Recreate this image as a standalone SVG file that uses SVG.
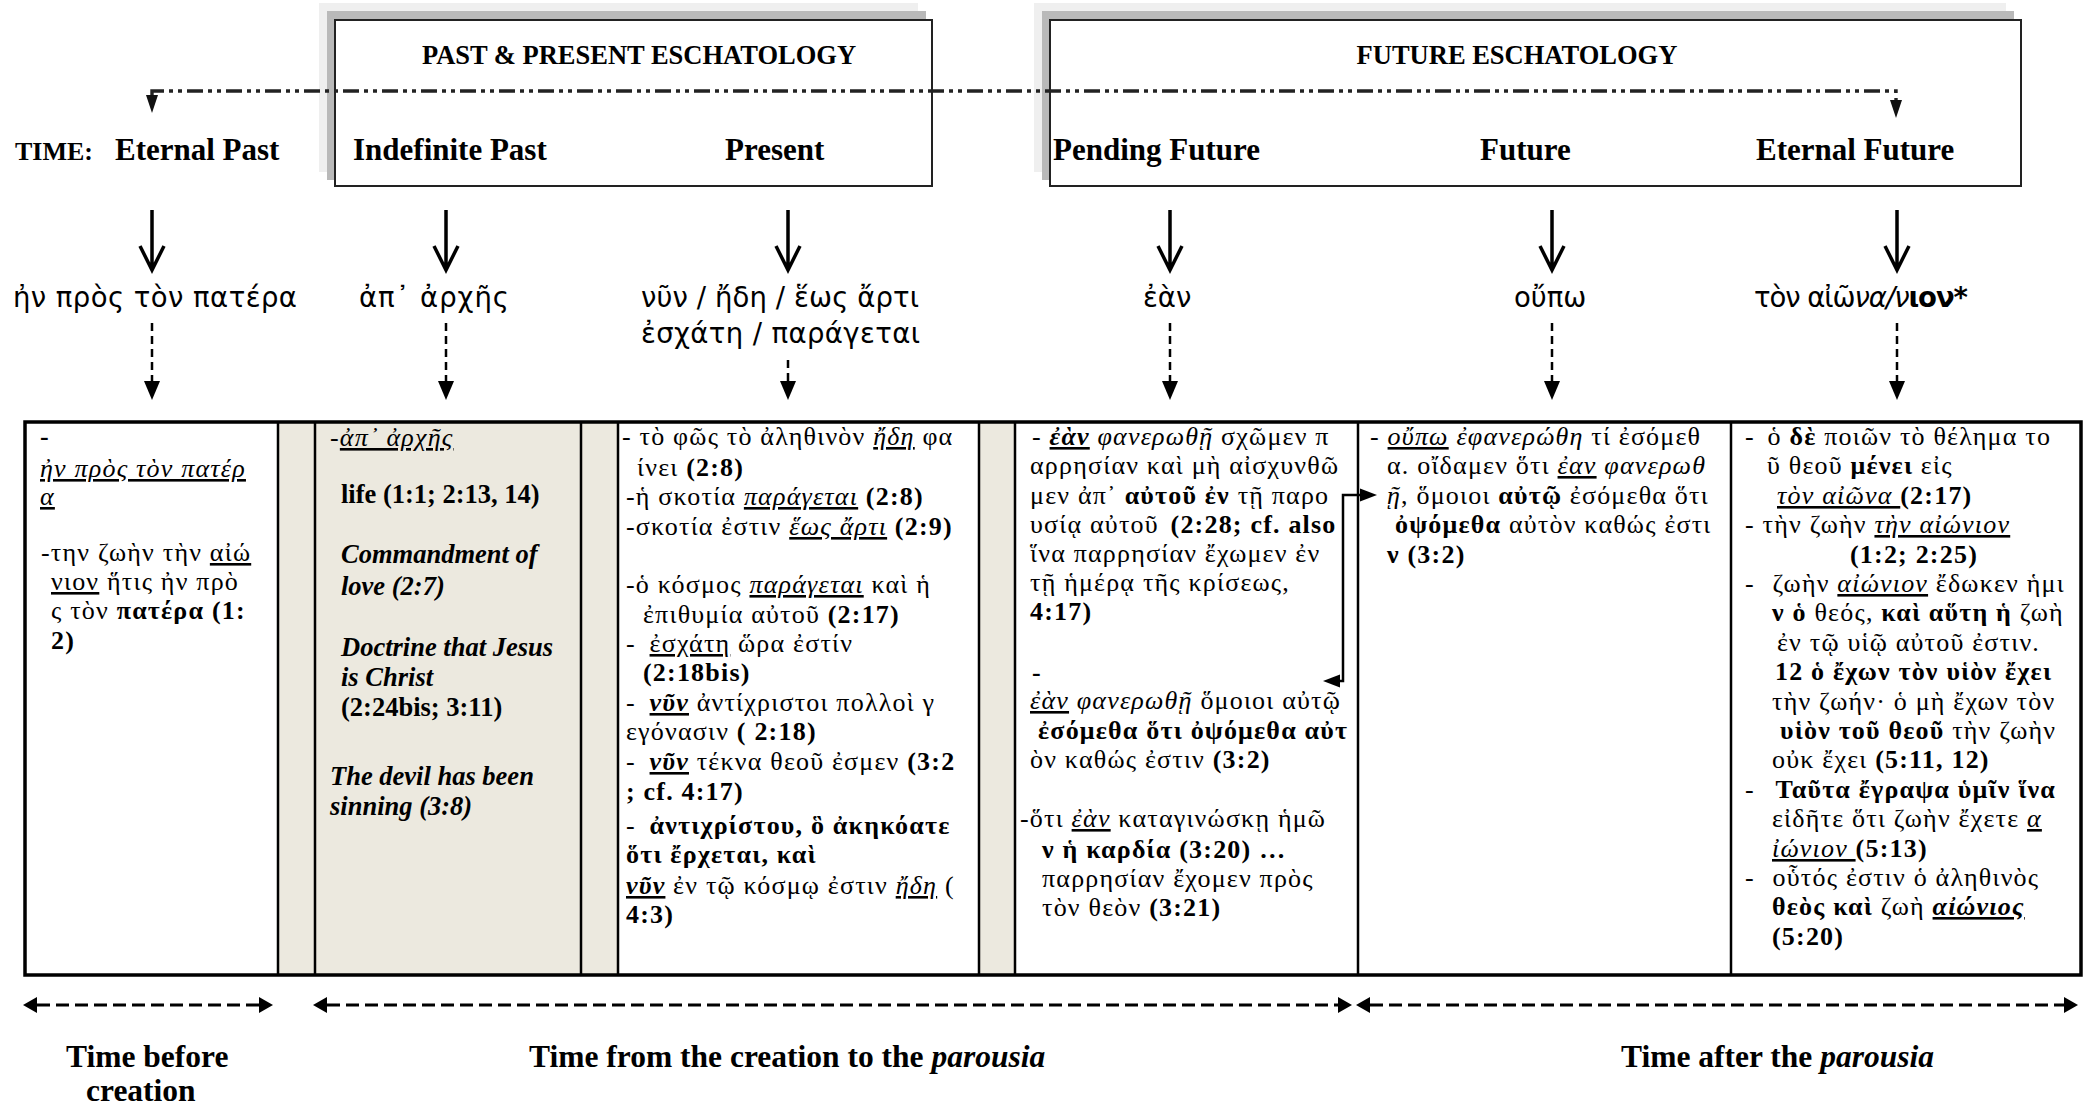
<svg xmlns="http://www.w3.org/2000/svg" width="2094" height="1106" viewBox="0 0 2094 1106">
<style>
.t{font-family:"Liberation Serif","DejaVu Serif",serif;fill:#000}
.title{font-size:26.5px;font-weight:bold}
.hd{font-size:31px;font-weight:bold}
.ft{font-size:31.5px;font-weight:bold}
.lab{font-family:"DejaVu Sans","Noto Sans",sans-serif;font-size:27.5px;fill:#000}
.g{font-family:"Liberation Serif","DejaVu Serif",serif;font-size:26px;letter-spacing:1.2px;fill:#000}
.en{font-family:"Liberation Serif",serif;font-size:26.5px;font-weight:bold;fill:#000}
.b{font-weight:bold}
.i{font-style:italic}
.u{text-decoration:underline}
.solid{stroke:#000;stroke-width:3.5;fill:none;stroke-linejoin:miter}
.dash{stroke:#000;stroke-width:2.5;stroke-dasharray:8 5;fill:none}
.dd{stroke:#222;stroke-width:3.4;stroke-dasharray:16 5 4 5 4 5;fill:none}
.dbl{stroke:#000;stroke-width:3;stroke-dasharray:13 6;fill:none}
.cn{stroke:#000;stroke-width:2.5;fill:none}
.cell{fill:#fff}
.beige{fill:#ECE9DF}
.grid{stroke:#000;stroke-width:2.5}
</style>
<defs>
<marker id="mDown" markerUnits="userSpaceOnUse" markerWidth="20" markerHeight="18" refX="0" refY="8" orient="auto" overflow="visible"><path d="M0,0 L19,8 L0,16 z" fill="#000"/></marker>
<marker id="mDD" markerUnits="userSpaceOnUse" markerWidth="19" markerHeight="12" refX="0" refY="6" orient="auto-start-reverse" overflow="visible"><path d="M0,0 L18,6 L0,12 z" fill="#111"/></marker>
<marker id="mDbl" markerUnits="userSpaceOnUse" markerWidth="15" markerHeight="16" refX="0" refY="8" orient="auto-start-reverse" overflow="visible"><path d="M0,0 L14,8 L0,16 z" fill="#000"/></marker>
<marker id="mCn" markerUnits="userSpaceOnUse" markerWidth="18" markerHeight="14" refX="0" refY="6.5" orient="auto-start-reverse" overflow="visible"><path d="M0,0 L17,6.5 L0,13 z" fill="#000"/></marker>
</defs>

<g id="box-past-present">
<rect x="319" y="3" width="599" height="169" fill="#efefef"/>
<rect x="327" y="11" width="599" height="169" fill="#b9b9b9"/>
<rect x="335" y="20" width="597" height="166" fill="#fff" stroke="#222" stroke-width="2"/>
<text class="t title" x="639" y="64" text-anchor="middle">PAST &amp; PRESENT ESCHATOLOGY</text>
</g>
<g id="box-future">
<rect x="1034" y="3" width="972" height="169" fill="#efefef"/>
<rect x="1042" y="11" width="972" height="169" fill="#b9b9b9"/>
<rect x="1050" y="20" width="971" height="166" fill="#fff" stroke="#222" stroke-width="2"/>
<text class="t title" x="1517" y="64" text-anchor="middle">FUTURE ESCHATOLOGY</text>
</g>

<g id="time-labels">
<text class="t b" x="15" y="160" font-size="26">TIME:</text>
<text class="t hd" x="115" y="160">Eternal Past</text>
<text class="t hd" x="353" y="160">Indefinite Past</text>
<text class="t hd" x="725" y="160">Present</text>
<text class="t hd" x="1053" y="160">Pending Future</text>
<text class="t hd" x="1480" y="160">Future</text>
<text class="t hd" x="1756" y="160">Eternal Future</text>
</g>

<g id="greek-labels">
<text class="lab" x="13" y="307" textLength="284" lengthAdjust="spacing">ἠν πρὸς τὸν πατέρα</text>
<text class="lab" x="359" y="307" textLength="150" lengthAdjust="spacing">ἀπ᾽ ἀρχῆς</text>
<text class="lab" x="641" y="307" textLength="278" lengthAdjust="spacing">νῦν / ἤδη / ἕως ἄρτι</text>
<text class="lab" x="641" y="343" textLength="279" lengthAdjust="spacing">ἐσχάτη / παράγεται</text>
<text class="lab" x="1143" y="307">ἐὰν</text>
<text class="lab" x="1514" y="307">οὔπω</text>
<text class="lab" x="1754" y="307" textLength="214" lengthAdjust="spacing">τὸν αἰῶ<tspan font-style="italic">να/ν</tspan><tspan font-weight="bold">ιον*</tspan></text>
</g>

<g id="table-frame">
<rect x="25" y="422" width="2056" height="553" class="cell"/>
<rect x="278" y="422" width="340" height="553" class="beige"/>
<rect x="979" y="422" width="36" height="553" class="beige"/>
<line class="grid" x1="278" y1="422" x2="278" y2="975"/>
<line class="grid" x1="315" y1="422" x2="315" y2="975"/>
<line class="grid" x1="581" y1="422" x2="581" y2="975"/>
<line class="grid" x1="618" y1="422" x2="618" y2="975"/>
<line class="grid" x1="979" y1="422" x2="979" y2="975"/>
<line class="grid" x1="1015" y1="422" x2="1015" y2="975"/>
<line class="grid" x1="1358" y1="422" x2="1358" y2="975"/>
<line class="grid" x1="1731" y1="422" x2="1731" y2="975"/>
<rect x="25" y="422" width="2056" height="553" fill="none" stroke="#000" stroke-width="3.5"/>
</g>

<g id="cell-eternal-past">
<text class="g" x="40" y="445"><tspan class="b">-</tspan></text>
<text class="g" x="40" y="477"><tspan class="i u">ἠν πρὸς τὸν πατέρ</tspan></text>
<text class="g" x="40" y="505"><tspan class="i u">α</tspan></text>
<text class="g" x="41" y="561">-την ζωὴν τὴν <tspan class="u">αἰώ</tspan></text>
<text class="g" x="51" y="590"><tspan class="u">νιον</tspan> ἥτις ἠν πρὸ</text>
<text class="g" x="51" y="619">ς τὸν <tspan class="b">πατέρα (1:</tspan></text>
<text class="g" x="51" y="649"><tspan class="b">2)</tspan></text>
</g>

<g id="cell-indefinite-past">
<text class="g" x="330" y="446">-<tspan class="i u">ἀπ᾽ ἀρχῆς</tspan></text>
<text class="en" x="341" y="503">life (1:1; 2:13, 14)</text>
<text class="en i" x="341" y="563">Commandment of</text>
<text class="en i" x="341" y="595">love (2:7)</text>
<text class="en i" x="341" y="656">Doctrine that Jesus</text>
<text class="en i" x="341" y="686">is Christ</text>
<text class="en" x="341" y="716">(2:24bis; 3:11)</text>
<text class="en i" x="330" y="785">The devil has been</text>
<text class="en i" x="330" y="815">sinning (3:8)</text>
</g>

<g id="cell-present">
<text class="g" x="622" y="445">- τὸ φῶς τὸ ἀληθινὸν <tspan class="i u">ἤδη</tspan> φα</text>
<text class="g" x="637" y="476">ίνει <tspan class="b">(2:8)</tspan></text>
<text class="g" x="626" y="505">-ἡ σκοτία <tspan class="i u">παράγεται</tspan> <tspan class="b">(2:8)</tspan></text>
<text class="g" x="626" y="535">-σκοτία ἐστιν <tspan class="i u">ἕως ἄρτι</tspan> <tspan class="b">(2:9)</tspan></text>
<text class="g" x="626" y="593">-ὁ κόσμος <tspan class="i u">παράγεται</tspan> καὶ ἡ</text>
<text class="g" x="643" y="623">ἐπιθυμία αὐτοῦ <tspan class="b">(2:17)</tspan></text>
<text class="g" x="626" y="652">- <tspan dx="6" class="u">ἐσχάτη</tspan> ὥρα ἐστίν</text>
<text class="g b" x="643" y="681">(2:18bis)</text>
<text class="g" x="626" y="711">- <tspan dx="6" class="b i u">νῦν</tspan> ἀντίχριστοι πολλοὶ γ</text>
<text class="g" x="626" y="740">εγόνασιν <tspan class="b">( 2:18)</tspan></text>
<text class="g" x="626" y="770">- <tspan dx="6" class="b i u">νῦν</tspan> τέκνα θεοῦ ἐσμεν <tspan class="b">(3:2</tspan></text>
<text class="g b" x="626" y="800">; cf. 4:17)</text>
<text class="g" x="626" y="834">- <tspan dx="6" class="b">ἀντιχρίστου, ὃ ἀκηκόατε</tspan></text>
<text class="g b" x="626" y="863">ὅτι ἔρχεται, καὶ</text>
<text class="g" x="626" y="894"><tspan class="b i u">νῦν</tspan> ἐν τῷ κόσμῳ ἐστιν <tspan class="i u">ἤδη</tspan> (</text>
<text class="g b" x="626" y="923">4:3)</text>
</g>

<g id="cell-pending-future">
<text class="g" x="1032" y="445">- <tspan class="b i u">ἐὰν</tspan> <tspan class="i">φανερωθῇ</tspan> σχῶμεν π</text>
<text class="g" x="1030" y="474">αρρησίαν καὶ μὴ αἰσχυνθῶ</text>
<text class="g" x="1030" y="504">μεν ἀπ᾽ <tspan class="b">αὐτοῦ ἐν</tspan> τῇ παρο</text>
<text class="g" x="1030" y="533">υσίᾳ αὐτοῦ <tspan dx="4" class="b">(2:28; cf. also</tspan></text>
<text class="g" x="1030" y="562">ἵνα παρρησίαν ἔχωμεν ἐν</text>
<text class="g" x="1030" y="591">τῇ ἡμέρᾳ τῆς κρίσεως,</text>
<text class="g b" x="1030" y="620">4:17)</text>
<text class="g b" x="1032" y="681">-</text>
<text class="g" x="1030" y="709"><tspan class="i u">ἐὰν</tspan> <tspan class="i">φανερωθῇ</tspan> ὅμοιοι αὐτῷ</text>
<text class="g b" x="1038" y="739">ἐσόμεθα ὅτι ὀψόμεθα αὐτ</text>
<text class="g" x="1030" y="768">ὸν καθώς ἐστιν <tspan class="b">(3:2)</tspan></text>
<text class="g" x="1020" y="827">-ὅτι <tspan class="i u">ἐὰν</tspan> καταγινώσκῃ ἡμῶ</text>
<text class="g b" x="1042" y="858">ν ἡ καρδία (3:20) …</text>
<text class="g" x="1042" y="887">παρρησίαν ἔχομεν πρὸς</text>
<text class="g" x="1042" y="916">τὸν θεὸν <tspan class="b">(3:21)</tspan></text>
</g>

<g id="cell-future">
<text class="g" x="1370" y="445">- <tspan class="i u">οὔπω</tspan> <tspan class="i">ἐφανερώθη</tspan> τί ἐσόμεθ</text>
<text class="g" x="1387" y="474">α. οἴδαμεν ὅτι <tspan class="i u">ἐαν</tspan> <tspan class="i">φανερωθ</tspan></text>
<text class="g" x="1387" y="504"><tspan class="i">ῇ</tspan>, ὅμοιοι <tspan class="b">αὐτῷ</tspan> ἐσόμεθα ὅτι</text>
<text class="g" x="1395" y="533"><tspan class="b">ὀψόμεθα</tspan> αὐτὸν καθώς ἐστι</text>
<text class="g b" x="1387" y="563">ν (3:2)</text>
</g>

<g id="cell-eternal-future">
<text class="g" x="1745" y="445">- <tspan dx="5">ὁ</tspan> <tspan class="b">δὲ</tspan> ποιῶν τὸ θέλημα το</text>
<text class="g" x="1767" y="474">ῦ θεοῦ <tspan class="b">μένει</tspan> εἰς</text>
<text class="g" x="1777" y="504"><tspan class="i u">τὸν αἰῶνα </tspan><tspan class="b">(2:17)</tspan></text>
<text class="g" x="1745" y="533">- τὴν ζωὴν <tspan class="i u">τὴν αἰώνιον</tspan></text>
<text class="g b" x="1850" y="563">(1:2; 2:25)</text>
<text class="g" x="1745" y="592">- <tspan dx="10">ζωὴν</tspan> <tspan class="i u">αἰώνιον</tspan> ἔδωκεν ἡμι</text>
<text class="g" x="1772" y="621"><tspan class="b">ν ὁ</tspan> θεός, <tspan class="b">καὶ αὕτη ἡ</tspan> ζωὴ</text>
<text class="g" x="1777" y="651">ἐν τῷ υἱῷ αὐτοῦ ἐστιν.</text>
<text class="g b" x="1775" y="680">12 ὁ ἔχων τὸν υἱὸν ἔχει</text>
<text class="g" x="1772" y="710">τὴν ζωήν· ὁ μὴ ἔχων τὸν</text>
<text class="g" x="1780" y="739"><tspan class="b">υἱὸν τοῦ θεοῦ</tspan> τὴν ζωὴν</text>
<text class="g" x="1772" y="768">οὐκ ἔχει <tspan class="b">(5:11, 12)</tspan></text>
<text class="g" x="1745" y="798">- <tspan dx="13" class="b">Ταῦτα ἔγραψα ὑμῖν ἵνα</tspan></text>
<text class="g" x="1772" y="827">εἰδῆτε ὅτι ζωὴν ἔχετε <tspan class="i u">α</tspan></text>
<text class="g" x="1772" y="857"><tspan class="i u">ἰώνιον </tspan><tspan class="b">(5:13)</tspan></text>
<text class="g" x="1745" y="886">- <tspan dx="10">οὗτός ἐστιν ὁ ἀληθινὸς</tspan></text>
<text class="g" x="1772" y="915"><tspan class="b">θεὸς καὶ</tspan> ζωὴ <tspan class="b i u">αἰώνιος</tspan></text>
<text class="g b" x="1772" y="945">(5:20)</text>
</g>

<g id="period-labels">
<text class="t ft" x="66" y="1067">Time before</text>
<text class="t ft" x="86" y="1101">creation</text>
<text class="t ft" x="529" y="1067">Time from the creation to the <tspan font-style="italic">parousia</tspan></text>
<text class="t ft" x="1621" y="1067">Time after the <tspan font-style="italic">parousia</tspan></text>
</g>

<g id="connectors">
<path class="dd" d="M152,95 V91 H1896 V100" marker-start="url(#mDD)" marker-end="url(#mDD)"/>
<path class="solid" d="M152,210 V268 M140,246 L152,270 L164,246"/>
<path class="solid" d="M446,210 V268 M434,246 L446,270 L458,246"/>
<path class="solid" d="M788,210 V268 M776,246 L788,270 L800,246"/>
<path class="solid" d="M1170,210 V268 M1158,246 L1170,270 L1182,246"/>
<path class="solid" d="M1552,210 V268 M1540,246 L1552,270 L1564,246"/>
<path class="solid" d="M1897,210 V268 M1885,246 L1897,270 L1909,246"/>
<path class="dash" d="M152,323 V381" marker-end="url(#mDown)"/>
<path class="dash" d="M446,323 V381" marker-end="url(#mDown)"/>
<path class="dash" d="M788,360 V381" marker-end="url(#mDown)"/>
<path class="dash" d="M1170,323 V381" marker-end="url(#mDown)"/>
<path class="dash" d="M1552,323 V381" marker-end="url(#mDown)"/>
<path class="dash" d="M1897,323 V381" marker-end="url(#mDown)"/>
<path class="cn" d="M1360,495 H1343 V681 H1340" marker-start="url(#mCn)" marker-end="url(#mCn)"/>
<path class="dbl" d="M37,1005 H259" marker-start="url(#mDbl)" marker-end="url(#mDbl)"/>
<path class="dbl" d="M327,1005 H1338" marker-start="url(#mDbl)" marker-end="url(#mDbl)"/>
<path class="dbl" d="M1370,1005 H2064" marker-start="url(#mDbl)" marker-end="url(#mDbl)"/>
</g>
</svg>
